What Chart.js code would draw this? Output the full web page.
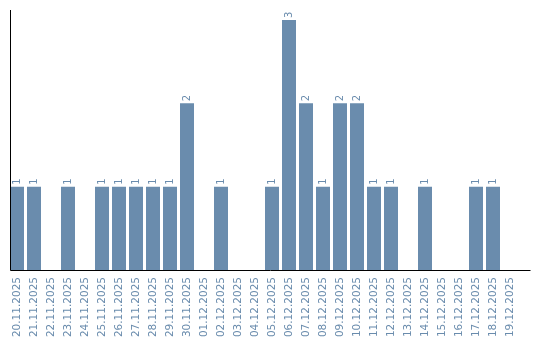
<!DOCTYPE html>
<html lang="de">
<head>
  <meta charset="UTF-8">
  <title>Tagesverlauf</title>
  <script src="https://cdn.jsdelivr.net/npm/chart.js"></script>
  <style>
    * { margin: 0; padding: 0; box-sizing: border-box; }
    body { background: #fff; width: 540px; height: 340px; overflow: hidden; }
    .chart-container { position: relative; width: 540px; height: 340px; }
  </style>
</head>
<body>
  <div class="chart-container">
    <canvas id="dayChart"></canvas>
  </div>

  <script>
    // Daten pro Tag
    const days = [
      '20.11.2025', '21.11.2025', '22.11.2025', '23.11.2025', '24.11.2025',
      '25.11.2025', '26.11.2025', '27.11.2025', '28.11.2025', '29.11.2025',
      '30.11.2025', '01.12.2025', '02.12.2025', '03.12.2025', '04.12.2025',
      '05.12.2025', '06.12.2025', '07.12.2025', '08.12.2025', '09.12.2025',
      '10.12.2025', '11.12.2025', '12.12.2025', '13.12.2025', '14.12.2025',
      '15.12.2025', '16.12.2025', '17.12.2025', '18.12.2025', '19.12.2025'
    ];
    const counts = [1, 1, 0, 1, 0, 1, 1, 1, 1, 1, 2, 0, 1, 0, 0,
                    1, 3, 2, 1, 2, 2, 1, 1, 0, 1, 0, 0, 1, 1, 0];

    const barColor = '#6a8cad';
    const fontFamily = "'DejaVu Sans', Verdana, sans-serif";

    // Achsenlinien und Werte über den Balken
    const axesAndLabels = {
      id: 'axesAndLabels',
      afterDatasetsDraw(chart) {
        const { ctx, chartArea } = chart;
        ctx.save();
        ctx.strokeStyle = '#000';
        ctx.lineWidth = 1;
        ctx.beginPath();
        ctx.moveTo(chartArea.left + 2, chartArea.top);
        ctx.lineTo(chartArea.left + 2, chartArea.bottom + 0.5);
        ctx.lineTo(chartArea.right + 12, chartArea.bottom + 0.5);
        ctx.stroke();

        const meta = chart.getDatasetMeta(0);
        ctx.fillStyle = barColor;
        ctx.font = '10px ' + fontFamily;
        ctx.textAlign = 'left';
        ctx.textBaseline = 'middle';
        meta.data.forEach((bar, i) => {
          const v = counts[i];
          if (!v) return;
          ctx.save();
          ctx.translate(bar.x, bar.y - 2);
          ctx.rotate(-Math.PI / 2);
          ctx.fillText(String(v), 0, 0);
          ctx.restore();
        });
        ctx.restore();
      }
    };

    new Chart(document.getElementById('dayChart'), {
      type: 'bar',
      data: {
        labels: days,
        datasets: [{
          data: counts,
          backgroundColor: barColor,
          barPercentage: 14 / 17,
          categoryPercentage: 1
        }]
      },
      options: {
        responsive: true,
        maintainAspectRatio: false,
        animation: false,
        layout: { padding: { left: 8.5, right: 21.5, top: 10, bottom: 0 } },
        scales: {
          x: {
            grid: { display: false, drawTicks: false },
            border: { display: false },
            ticks: {
              color: barColor,
              font: { family: fontFamily, size: 10.5 },
              minRotation: 90,
              maxRotation: 90,
              autoSkip: false,
              padding: 7
            },
            afterFit: s => { s.height = 70; }
          },
          y: {
            display: false,
            min: 0,
            max: 3.12
          }
        },
        plugins: {
          legend: { display: false },
          tooltip: { enabled: false }
        }
      },
      plugins: [axesAndLabels]
    });
  </script>
</body>
</html>
